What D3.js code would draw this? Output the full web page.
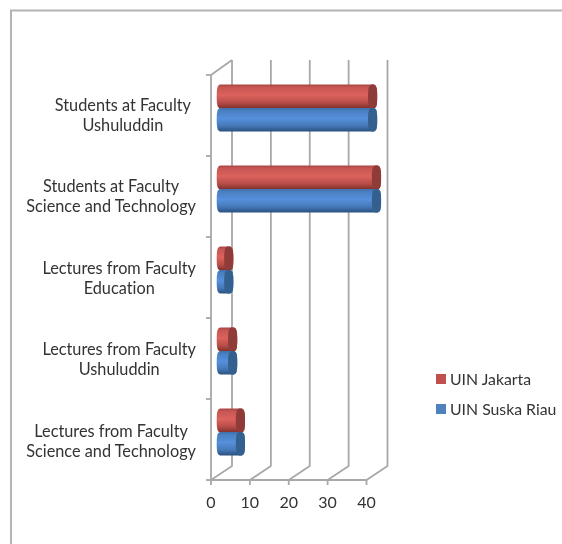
<!DOCTYPE html>
<html><head><meta charset="utf-8">
<script src="https://cdn.jsdelivr.net/npm/d3@7/dist/d3.min.js"></script>
<style>html,body{margin:0;padding:0;background:#fff}svg{display:block;filter:blur(0.45px)}text{font-family:Lato,"Open Sans",sans-serif;fill:#333;font-variant-ligatures:none}</style>
</head><body><svg id="c" width="562" height="544"></svg>
<script>
const categories = [
  ["Students at Faculty","Ushuluddin"],
  ["Students at Faculty","Science and Technology"],
  ["Lectures from Faculty","Education"],
  ["Lectures from Faculty","Ushuluddin"],
  ["Lectures from Faculty","Science and Technology"]
];
const uinJakarta = [39,40,2,3,5];
const uinSuskaRiau = [39,40,2,3,5];
const tickLabels = [0,10,20,30,40];
const seriesNames = ["UIN Jakarta","UIN Suska Riau"];

const svg = d3.select("#c");
const W=562,H=544, dx=21, dy=14;
const x = d3.scaleLinear().domain([0,40]).range([211,366.5]);
const y = d3.scaleBand().domain(d3.range(categories.length)).range([75,480]);
const s = d3.scaleBand().domain([0,1]).range([0,47]);
const grid="#a8a8a8";

// outer frame
svg.append("path").attr("d",`M11,544V10.5H${W}`).attr("fill","none").attr("stroke","#b4b4b4").attr("stroke-width",2);

const defs = svg.append("defs");
function grad(id,stops){
  const g=defs.append("linearGradient").attr("id",id).attr("x1",0).attr("y1",0).attr("x2",0).attr("y2",1);
  stops.forEach(([o,c])=>g.append("stop").attr("offset",o).attr("stop-color",c));
}
grad("r",[[0,"#a84643"],[.12,"#c75652"],[.45,"#dc625d"],[.75,"#b84d49"],[1,"#7e2f2c"]]);
grad("b",[[0,"#3f6fa8"],[.12,"#4a80c2"],[.45,"#5690dc"],[.75,"#467ab9"],[1,"#2b5080"]]);
const colors=[{g:"url(#r)",cap:"#8f3b38",leg:"#c0504d"},{g:"url(#b)",cap:"#33608f",leg:"#4f81bd"}];

// grid: back wall + floor
const G=svg.append("g").attr("fill","none").attr("stroke",grid).attr("stroke-width",1.8);
x.ticks(4).forEach(t=>{
  G.append("path").attr("d",`M${x(t)},480L${x(t)+dx},${480-dy}V${75-dy-1}`);
});
G.append("path").attr("d",`M211,75L${211+dx},${75-dy-1}`);
G.append("path").attr("d",`M211,75V480H${x(40)}`);
x.ticks(4).forEach(t=>G.append("path").attr("d",`M${x(t)},480v5`));
y.domain().forEach(i=>G.append("path").attr("d",`M206,${y(i)}h5`));
G.append("path").attr("d",`M206,480h5`);

// axis labels
tickLabels.forEach(t=>svg.append("text").attr("x",x(t)).attr("y",507.5).attr("text-anchor","middle").attr("font-size",16).text(t));
categories.forEach((c,i)=>{
  const cy=y(i)+y.bandwidth()/2+i*0.45;
  const g=svg.append("g");
  const ts=c.map((l,j)=>g.append("text").attr("y",cy+j*20-4.5).attr("text-anchor","middle").attr("font-size",16.3).text(l));
  const w=d3.max(ts,t=>t.node().getComputedTextLength());
  const right=i===0?191:196;
  ts.forEach(t=>t.attr("x",right-w/2));
});

// bars
const x0=x(0)+10.3, K=0.8;
[uinJakarta,uinSuskaRiau].forEach((vals,k)=>{
  vals.forEach((v,i)=>{
    const top=y(i)+y.bandwidth()/2-7.5-23.5+s(k);
    const h=s.bandwidth()+(k?0:.6), ry=h/2, rx=4.6, cx=x0, ex=x(v)-x(0)+x0-.3;
    const mid=top+ry, bot=top+h;
    const R=(X)=>`C${X+rx*K},${top} ${X+rx},${mid-ry*K} ${X+rx},${mid}C${X+rx},${mid+ry*K} ${X+rx*K},${bot} ${X},${bot}`;
    const g=svg.append("g");
    g.append("path").attr("fill",colors[k].g)
     .attr("d",`M${cx},${top}H${ex}${R(ex)}H${cx}C${cx-rx*K},${bot} ${cx-rx},${mid+ry*K} ${cx-rx},${mid}C${cx-rx},${mid-ry*K} ${cx-rx*K},${top} ${cx},${top}Z`);
    g.append("path").attr("fill",colors[k].cap)
     .attr("d",`M${ex},${top}${R(ex)}C${ex-rx*K},${bot} ${ex-rx},${mid+ry*K} ${ex-rx},${mid}C${ex-rx},${mid-ry*K} ${ex-rx*K},${top} ${ex},${top}Z`);
  });
});

// legend
seriesNames.forEach((n,i)=>{
  const ly=379+i*30;
  svg.append("rect").attr("x",436).attr("y",ly-5).attr("width",10).attr("height",10).attr("fill",colors[i].leg);
  svg.append("text").attr("x",450).attr("y",ly+5.5).attr("font-size",15.8).text(n);
});
</script></body></html>
